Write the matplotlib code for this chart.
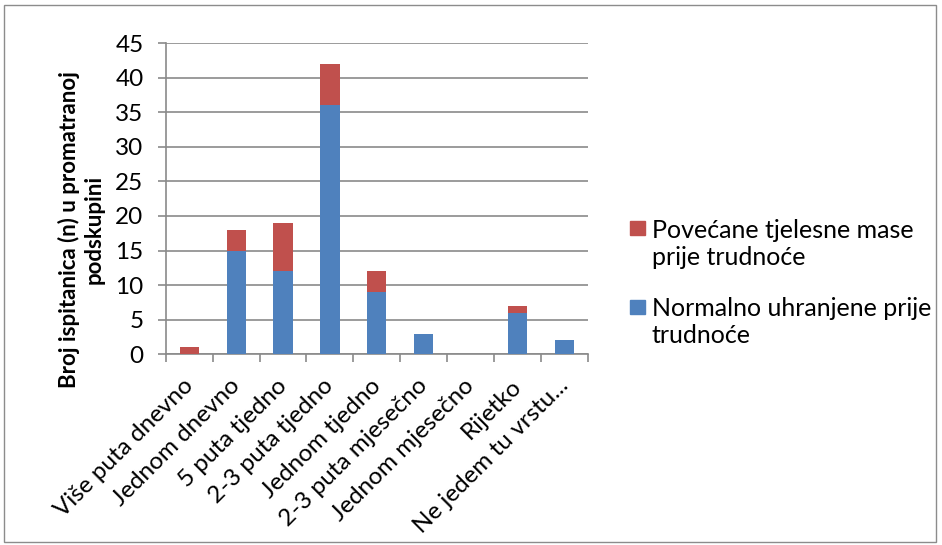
import matplotlib.pyplot as plt
import numpy as np
from matplotlib.patches import Rectangle
from matplotlib.transforms import ScaledTranslation

plt.rcParams['font.family'] = ['Lato', 'DejaVu Sans']

kategorije = ['Više puta dnevno', 'Jednom dnevno', '5 puta tjedno',
              '2-3 puta tjedno', 'Jednom tjedno', '2-3 puta mjesečno',
              'Jednom mjesečno', 'Rijetko', 'Ne jedem tu vrstu...']
normalno = [0, 15, 12, 36, 9, 3, 0, 6, 2]
povecane = [1, 3, 7, 6, 3, 0, 0, 1, 0]
legenda = ['Povećane tjelesne mase\nprije trudnoće',
           'Normalno uhranjene prije\ntrudnoće']

plava = '#4F81BD'
crvena = '#C0504D'
siva = '#8a8a8a'

W, H = 942, 545
fig = plt.figure(figsize=(W / 100, H / 100), dpi=100)
fig.patches.append(Rectangle((0.004, 0.006), 0.99, 0.985, transform=fig.transFigure,
                             fill=False, edgecolor='#8c8c8c', linewidth=1))
ax = fig.add_axes([0.176, 0.350, 0.448, 0.571])

x = np.arange(len(kategorije))
ax.bar(x, normalno, width=0.41, color=plava, zorder=3)
ax.bar(x, povecane, width=0.41, bottom=normalno, color=crvena, zorder=3)

ax.set_xlim(-0.5, len(kategorije) - 0.5)
ax.set_ylim(0, 45)
ax.set_yticks(range(0, 46, 5))
ax.yaxis.grid(True, color=siva, linewidth=1.2, zorder=0)
ax.set_axisbelow(True)

ax.set_xticks(x)
ax.set_xticklabels(kategorije, rotation=45, ha='right', rotation_mode='anchor', fontsize=17.5)
ax.tick_params(axis='x', length=0, pad=10)
pomak = ScaledTranslation(-0.07, -0.07, fig.dpi_scale_trans)
for lab in ax.get_xticklabels():
    lab.set_transform(lab.get_transform() + pomak)
ax.set_xticks(np.arange(-0.5, len(kategorije), 1), minor=True)
ax.tick_params(axis='x', which='minor', length=6, color=siva, width=1.2)
ax.tick_params(axis='y', labelsize=17.5, length=6, color=siva, width=1.2, pad=10)

for s in ['top', 'right']:
    ax.spines[s].set_visible(False)
for s in ['left', 'bottom']:
    ax.spines[s].set_color(siva)
    ax.spines[s].set_linewidth(1.2)

ax.set_ylabel('Broj ispitanica (n) u promatranoj\npodskupini', fontsize=16,
              fontweight='bold')
ax.yaxis.set_label_coords(-0.145, 0.40)

# legenda (kvadratić poravnat s prvim retkom)
for boja, tekst, y_kv, y_txt in [(crvena, legenda[0], 228, 244),
                                  (plava, legenda[1], 307, 322)]:
    fig.patches.append(Rectangle((630 / W, 1 - (y_kv + 7) / H), 15 / W, 14 / H,
                                 transform=fig.transFigure, color=boja))
    fig.text(652 / W, 1 - y_txt / H, tekst, fontsize=18, va='center', ha='left',
             linespacing=1.2)

fig.savefig('out.png', dpi=100)
